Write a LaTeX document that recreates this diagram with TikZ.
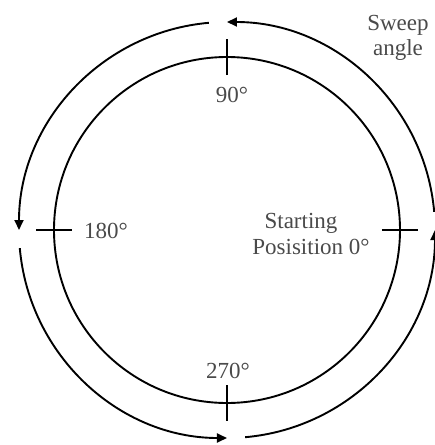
\documentclass[tikz,border=0pt]{standalone}
\usepackage{fontspec}
\setmainfont{Liberation Serif}
\usetikzlibrary{arrows.meta,calc}
\definecolor{labelgray}{HTML}{4A4A4A}
\begin{document}
\begin{tikzpicture}[x=1pt,y=1pt,
  ring/.style={line width=1.9pt,black},
  sweeparc/.style={line width=1.9pt,black,-{Triangle[length=10pt,width=9pt]}},
  tick/.style={line width=1.9pt,black},
  lbl/.style={text=labelgray,font=\fontsize{23}{27}\selectfont,inner sep=0pt,anchor=base}]
\useasboundingbox (-227,-215) rectangle (208,230);
\coordinate (O) at (0,0);
% inner circle
\draw[ring] (O) circle[radius=173];
% ticks at 0, 90, 180, 270
\foreach \a/\n in {0/e,90/n,180/w,270/s}{
  \coordinate (ti\n) at ($(O)+(\a:155)$);
  \coordinate (to\n) at ($(O)+(\a:191)$);
}
\draw[tick] (tie) -- (toe);
\draw[tick] (tin) -- (ton);
\draw[tick] (tiw) -- (tow);
\draw[tick] (tis) -- (tos);
% sweep arcs
\foreach \a in {0,90,180,270}{
  \pgfmathsetmacro{\s}{\a+5}
  \pgfmathsetmacro{\e}{\a+90}
  \draw[sweeparc] ($(O)+(\s:208)$) arc[start angle=\s,end angle=\e,radius=208];
}
% labels
\node[lbl] (l90) at (5,128) {90°};
\node[lbl] (l180) at (-121,-8) {180°};
\node[lbl] (l270) at (1,-148) {270°};
\node[lbl] (st1) at (74,2) {Starting};
\node[lbl] (st2) at (84,-24) {Posisition 0°};
\node[lbl] (sw1) at (171,200) {Sweep};
\node[lbl] (sw2) at (171,175) {angle};
\end{tikzpicture}
\end{document}
